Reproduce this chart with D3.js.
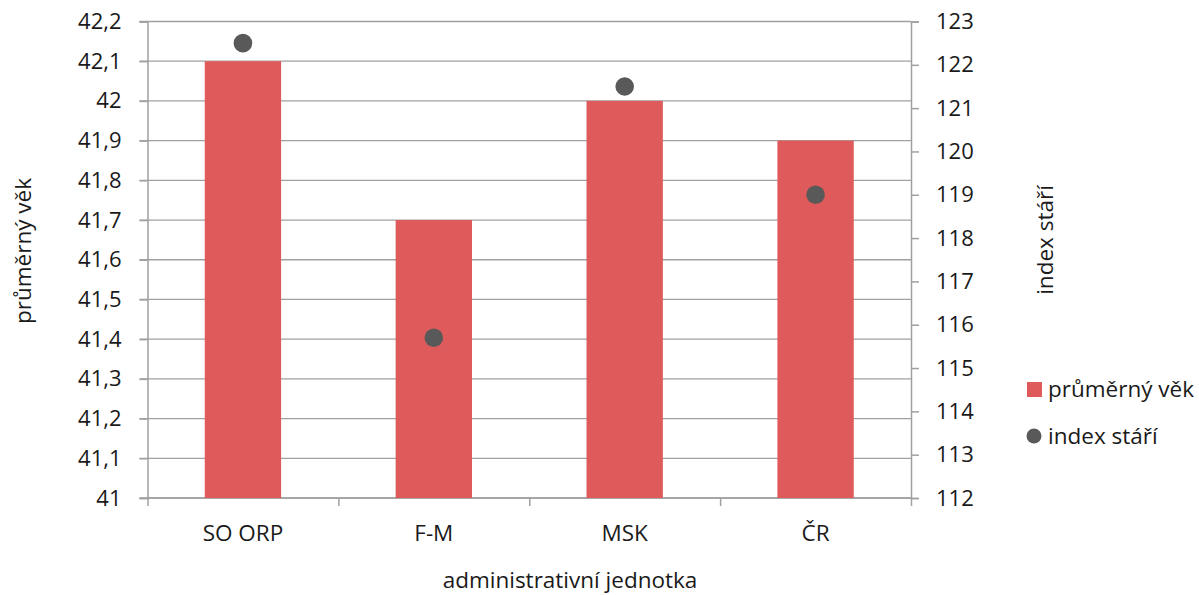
<!DOCTYPE html>
<html><head><meta charset="utf-8">
<script src="https://cdn.jsdelivr.net/npm/d3@7/dist/d3.min.js"></script>
<style>
body{margin:0;background:#fff;}
svg text{font-family:"Open Sans",sans-serif;fill:#1a1a1a;}
</style></head>
<body><svg id="c" width="1199" height="595"></svg>
<script>
const categories = ["SO ORP","F-M","MSK","ČR"];
const avgAge = [42.1, 41.7, 42.0, 41.9];
const ageIndex = [122.5, 115.7, 121.5, 119.0];
const leftTicks = [41,41.1,41.2,41.3,41.4,41.5,41.6,41.7,41.8,41.9,42,42.1,42.2];
const rightTicks = [112,113,114,115,116,117,118,119,120,121,122,123];

const svg = d3.select("#c");
const L=147.5, R=911, T=21.5, B=498;
const gridCol="#a0a0a0";
const x = d3.scaleBand().domain(categories).range([L,R]).paddingInner(0.6).paddingOuter(0.3);
const yL = d3.scaleLinear().domain([41,42.2]).range([B,T]);
const yR = d3.scaleLinear().domain([112,123]).range([B,T]);
const fmt = d => String(+d.toFixed(1)).replace(".",",");

// gridlines
svg.append("g").selectAll("line").data(leftTicks).join("line")
  .attr("x1",L-8).attr("x2",R).attr("y1",d=>yL(d)).attr("y2",d=>yL(d))
  .attr("stroke",gridCol).attr("stroke-width",1.3);

// left axis
const gl = svg.append("g").attr("transform",`translate(${L},0)`)
  .call(d3.axisLeft(yL).tickValues(leftTicks).tickFormat(fmt).tickSize(8).tickPadding(18));
// right axis
const gr = svg.append("g").attr("transform",`translate(${R},0)`)
  .call(d3.axisRight(yR).tickValues(rightTicks).tickFormat(d=>d).tickSize(8).tickPadding(17));
// bottom axis
const xb = d3.scaleLinear().domain([0,4]).range([L,R]);
const gb = svg.append("g").attr("transform",`translate(0,${B})`)
  .call(d3.axisBottom(xb).tickValues([0,1,2,3,4]).tickFormat("").tickSize(8));
[gl,gr,gb].forEach(g=>{
  g.selectAll("path.domain").attr("stroke",gridCol).attr("stroke-width",1.5);
  g.selectAll(".tick line").attr("stroke",gridCol).attr("stroke-width",1.5);
  g.selectAll(".tick text").style("font-size","22px").attr("fill","#1a1a1a");
});
gb.select("path.domain").remove();
gb.append("line").attr("x1",L).attr("x2",R).attr("y1",0).attr("y2",0).attr("stroke",gridCol).attr("stroke-width",1.5);

// category labels
svg.append("g").selectAll("text").data(categories).join("text")
  .attr("x",d=>x(d)+x.bandwidth()/2).attr("y",541)
  .attr("text-anchor","middle").style("font-size","22.5px").text(d=>d);

// bars
svg.append("g").selectAll("rect").data(categories).join("rect")
  .attr("x",d=>x(d)).attr("width",x.bandwidth())
  .attr("y",(d,i)=>yL(avgAge[i])).attr("height",(d,i)=>B-yL(avgAge[i]))
  .attr("fill","#df5a5a");

// dots
svg.append("g").selectAll("circle").data(categories).join("circle")
  .attr("cx",d=>x(d)+x.bandwidth()/2).attr("cy",(d,i)=>yR(ageIndex[i]))
  .attr("r",9.3).attr("fill","#595959");

// axis titles
const titleStyle = s => s.style("font-size","22.5px").style("font-weight","500").attr("fill","#000");
svg.append("text").attr("transform","translate(31,251) rotate(-90)")
  .attr("text-anchor","middle").call(titleStyle).text("průměrný věk");
svg.append("text").attr("transform","translate(1053,240) rotate(-90)")
  .attr("text-anchor","middle").call(titleStyle).text("index stáří");
svg.append("text").attr("x",570).attr("y",588)
  .attr("text-anchor","middle").call(titleStyle).text("administrativní jednotka");

// legend
svg.append("rect").attr("x",1027).attr("y",382).attr("width",15).attr("height",15).attr("fill","#df5a5a");
svg.append("text").attr("x",1048).attr("y",397).style("font-size","22.5px").text("průměrný věk");
svg.append("circle").attr("cx",1034).attr("cy",436).attr("r",7.5).attr("fill","#595959");
svg.append("text").attr("x",1048).attr("y",444).style("font-size","22.5px").text("index stáří");
</script></body></html>
